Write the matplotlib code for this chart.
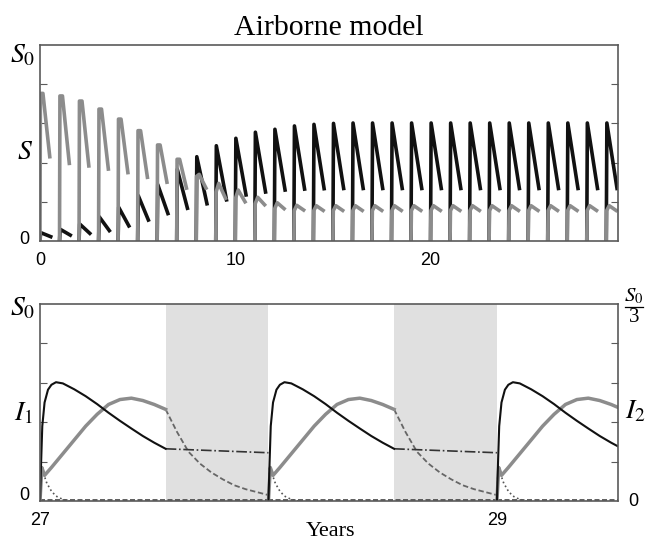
import matplotlib
matplotlib.use("Agg")
import numpy as np
from matplotlib import pyplot as plt
from matplotlib.lines import Line2D

plt.rcParams['mathtext.fontset'] = 'stix'

# --- top panel: susceptibles, one season per year ---
years = np.arange(0, 30)
black_peak = [0.043, 0.06, 0.087, 0.124, 0.172, 0.232, 0.288, 0.366, 0.43, 0.486,
              0.524, 0.555, 0.57, 0.587, 0.595, 0.60, 0.602, 0.602, 0.602, 0.602,
              0.602, 0.602, 0.602, 0.602, 0.602, 0.602, 0.602, 0.602, 0.602, 0.602]
black_end = [0.022, 0.03, 0.039, 0.053, 0.077, 0.107, 0.14, 0.167, 0.19, 0.21,
             0.235, 0.25, 0.26, 0.265, 0.267, 0.268, 0.268, 0.268, 0.268, 0.268,
             0.268, 0.268, 0.268, 0.268, 0.268, 0.268, 0.268, 0.268, 0.268, 0.268]
gray_start = [0.753, 0.74, 0.714, 0.673, 0.622, 0.563, 0.49, 0.417, 0.33, 0.25,
              0.22, 0.19, 0.165, 0.155, 0.155, 0.155, 0.155, 0.155, 0.155, 0.155,
              0.155, 0.155, 0.155, 0.155, 0.155, 0.155, 0.155, 0.155, 0.155, 0.155]
gray_peak = [0.753, 0.74, 0.714, 0.673, 0.622, 0.563, 0.49, 0.417, 0.34, 0.294,
             0.26, 0.223, 0.195, 0.182, 0.18, 0.18, 0.18, 0.18, 0.18, 0.18,
             0.18, 0.18, 0.18, 0.18, 0.18, 0.18, 0.18, 0.18, 0.18, 0.18]
gray_end = [0.43, 0.396, 0.383, 0.367, 0.349, 0.325, 0.30, 0.27, 0.27, 0.218,
            0.2, 0.185, 0.165, 0.158, 0.156, 0.156, 0.156, 0.156, 0.156, 0.156,
            0.156, 0.156, 0.156, 0.156, 0.156, 0.156, 0.156, 0.156, 0.156, 0.156]

# --- bottom panel: infecteds over years 27-29 ---
seasons = [27, 28, 29]
i1_off = [0, 0.005, 0.01, 0.02, 0.035, 0.05, 0.07, 0.1, 0.15, 0.2, 0.25, 0.3,
          0.35, 0.4, 0.45, 0.5, 0.55]
i1_val = [0, 0.2, 0.38, 0.5, 0.565, 0.59, 0.603, 0.597, 0.567, 0.532, 0.492,
          0.448, 0.407, 0.368, 0.33, 0.296, 0.265]
i1_gap_off = [0.55, 1.0]
i1_gap_val = [0.265, 0.245]
i2_off = [0, 0.008, 0.02, 0.05, 0.1, 0.15, 0.2, 0.25, 0.3, 0.35, 0.4, 0.45, 0.5, 0.55]
i2_val = [0, 0.17, 0.13, 0.17, 0.24, 0.31, 0.38, 0.44, 0.49, 0.515, 0.522, 0.51,
          0.49, 0.465]
i2_gap_off = [0.55, 0.6, 0.65, 0.7, 0.75, 0.8, 0.85, 0.9, 0.95, 1.0]
i2_gap_val = [0.465, 0.35, 0.25, 0.19, 0.145, 0.11, 0.08, 0.06, 0.045, 0.03]
bump_off = [0, 0.005, 0.015, 0.03, 0.05, 0.07, 0.1, 0.13]
bump_val = [0, 0.17, 0.14, 0.09, 0.05, 0.025, 0.008, 0.0]
off_start = 0.55

GRAY = '#8c8c8c'
DARK = '#111111'
FRAME = '#5a5a5a'

fig = plt.figure(figsize=(6.49, 5.42), dpi=100)
ax1 = fig.add_axes([40/649, 1-241/542, 578/649, 196/542])
ax2 = fig.add_axes([40/649, 1-501/542, 578/649, 197/542])

for k in range(len(years)):
    y0 = years[k]
    ax1.plot([y0, y0+0.03, y0+0.55], [0, black_peak[k], black_end[k]],
             color=DARK, lw=2.6, solid_joinstyle='round')
for k in range(len(years)):
    y0 = years[k]
    ax1.plot([y0, y0+0.02, y0+0.15, y0+0.5],
             [0, gray_start[k], gray_peak[k], gray_end[k]],
             color=GRAY, lw=2.6, solid_joinstyle='round')

ax1.set_xlim(0, 29.6)
ax1.set_ylim(0, 1)
ax1.set_xticks([0, 10, 20])
ax1.set_xticklabels(['0', '10', '20'], fontsize=13, family='Liberation Sans')
ax1.set_yticks([0.2, 0.4, 0.6, 0.8])
ax1.set_yticklabels([])
ax1.tick_params(axis='y', direction='in', length=5, left=True, right=True, color=FRAME)
ax1.tick_params(axis='x', length=0, pad=8)
ax1.text(-0.008, 0.95, '$S_0$', transform=ax1.transAxes, ha='right', va='center', fontsize=20)
ax1.text(-0.012, 0.46, '$S$', transform=ax1.transAxes, ha='right', va='center', fontsize=20)
ax1.text(-0.018, 0.01, '0', transform=ax1.transAxes, ha='right', va='center', fontsize=13,
         family='Liberation Sans')
ax1.set_title('Airborne model', fontsize=21.5, family='Liberation Serif', pad=7)

for s in seasons:
    ax2.axvspan(s + off_start, s + 1, color='#e0e0e0', lw=0, zorder=0)
    ax2.plot([s, s + 1], [0.004, 0.004], color='#444444', lw=1.2, ls=(0, (3, 1.5)))
    ax2.plot(s + np.array(bump_off), bump_val, color='#555555', lw=1.2, ls=':')
    ax2.plot(s + np.array(i2_gap_off), i2_gap_val, color='#666666', lw=1.3, ls=(0, (3, 1.5)))
    ax2.plot(s + np.array(i1_gap_off), i1_gap_val, color='#333333', lw=1.2, ls='-.')
    ax2.plot(s + np.array(i2_off), i2_val, color=GRAY, lw=2.5)
    ax2.plot(s + np.array(i1_off), i1_val, color=DARK, lw=1.5)

ax2.set_xlim(27, 29.53)
ax2.set_ylim(0, 1)
ax2.set_xticks([27, 29])
ax2.set_xticklabels(['27', '29'], fontsize=13, family='Liberation Sans')
ax2.set_yticks([0.2, 0.4, 0.6, 0.8])
ax2.set_yticklabels([])
ax2.tick_params(axis='y', direction='in', length=5, left=True, right=True, color=FRAME)
ax2.tick_params(axis='x', length=0, pad=8)
ax2.text(-0.008, 0.985, '$S_0$', transform=ax2.transAxes, ha='right', va='center', fontsize=20)
ax2.text(-0.012, 0.45, '$I_1$', transform=ax2.transAxes, ha='right', va='center', fontsize=20)
ax2.text(-0.018, 0.03, '0', transform=ax2.transAxes, ha='right', va='center', fontsize=13,
         family='Liberation Sans')

# S0/3 stacked fraction label on the right axis
fig.text(634/649, 1-296/542, '$S_0$', ha='center', va='center', fontsize=15)
fig.lines.append(Line2D([625/649, 643/649], [1-307/542, 1-307/542], color='black',
                        lw=0.9, transform=fig.transFigure))
fig.text(634/649, 1-318/542, '3', ha='center', va='center', fontsize=15,
         family='Liberation Serif')

ax2.text(1.012, 0.46, '$I_2$', transform=ax2.transAxes, ha='left', va='center', fontsize=20)
ax2.text(1.018, 0.0, '0', transform=ax2.transAxes, ha='left', va='center', fontsize=13,
         family='Liberation Sans')
fig.text(330/649, 1-532/542, 'Years', ha='center', va='center', fontsize=16,
         family='Liberation Serif')

for ax in (ax1, ax2):
    for sp in ax.spines.values():
        sp.set_color(FRAME)
        sp.set_linewidth(1.2)

fig.savefig('out.png', dpi=100)
